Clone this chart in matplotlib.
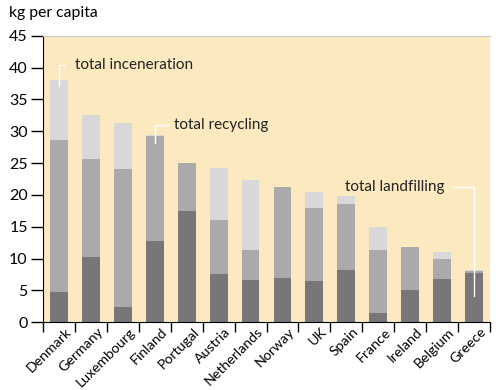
#!/usr/bin/env python3
import matplotlib
matplotlib.use("Agg")
import matplotlib.pyplot as plt
import matplotlib.transforms as mtransforms
import numpy as np

plt.rcParams['font.family'] = ['Lato', 'DejaVu Sans']

# data (kg per capita)
countries = ['Denmark', 'Germany', 'Luxembourg', 'Finland', 'Portugal', 'Austria',
             'Netherlands', 'Norway', 'UK', 'Spain', 'France', 'Ireland', 'Belgium', 'Greece']
landfilling = [4.7, 10.2, 2.4, 12.7, 17.5, 7.6, 6.7, 6.9, 6.5, 8.2, 1.5, 5.1, 6.8, 7.8]
recycling_top = [28.7, 25.7, 24.1, 29.3, 25.0, 16.1, 11.4, 21.3, 18.0, 18.5, 11.4, 11.8, 10.0, 8.0]
total_top = [38.1, 32.5, 31.3, 29.4, 25.0, 24.2, 22.4, 21.3, 20.5, 19.8, 15.0, 11.8, 11.1, 8.2]

land = np.array(landfilling)
recy = np.array(recycling_top) - land
inc = np.array(total_top) - np.array(recycling_top)

x = np.arange(len(countries))
w = 0.56

fig = plt.figure(figsize=(5, 3.9), dpi=100)
ax = fig.add_axes([0.086, 0.174, 0.894, 0.734])
ax.set_facecolor('#fde9c0')

ax.bar(x, land, w, color='#777777')
ax.bar(x, recy, w, bottom=land, color='#aaaaaa')
ax.bar(x, inc, w, bottom=land + recy, color='#d8d8d8')

ax.set_xlim(-0.5, len(countries) - 0.5)
ax.set_ylim(0, 45)
ax.set_yticks(np.arange(0, 46, 5))
ax.tick_params(axis='y', length=9, width=1, labelsize=11.5, pad=2)

# ticks between bars, labels centred under bars
ax.set_xticks(np.arange(len(countries) + 1) - 0.5)
ax.set_xticklabels([])
ax.set_xticks(x, minor=True)
ax.set_xticklabels(countries, minor=True, rotation=45, ha='right',
                   rotation_mode='anchor', fontsize=10.2)
ax.tick_params(axis='x', which='major', length=7, width=1)
ax.tick_params(axis='x', which='minor', length=0, pad=2.5)
shift = mtransforms.ScaledTranslation(6 / 100, 0, fig.dpi_scale_trans)
for lab in ax.get_xticklabels(minor=True):
    lab.set_transform(lab.get_transform() + shift)

ax.spines['right'].set_visible(False)
ax.spines['top'].set_color('#c8c8c8')

fig.text(0.018, 0.966, 'kg per capita', fontsize=11.3, va='center')

# leader lines + labels
def label(i, y0, y1, x_end, x_text, text, ha='left'):
    ax.plot([i, i, x_end], [y0, y1, y1], color='white', lw=1)
    ax.text(x_text, y1, text, ha=ha, va='center', fontsize=11, color='#222222')

label(0, total_top[0] - 1.0, 40.4, 0.16, 0.5, 'total inceneration')
label(3, total_top[3] - 1.2, 31.0, 3.45, 3.6, 'total recycling')
label(13, landfilling[13] - 3.7, 21.2, 12.33, 12.09, 'total landfilling', ha='right')

fig.savefig('out.png', dpi=100)
